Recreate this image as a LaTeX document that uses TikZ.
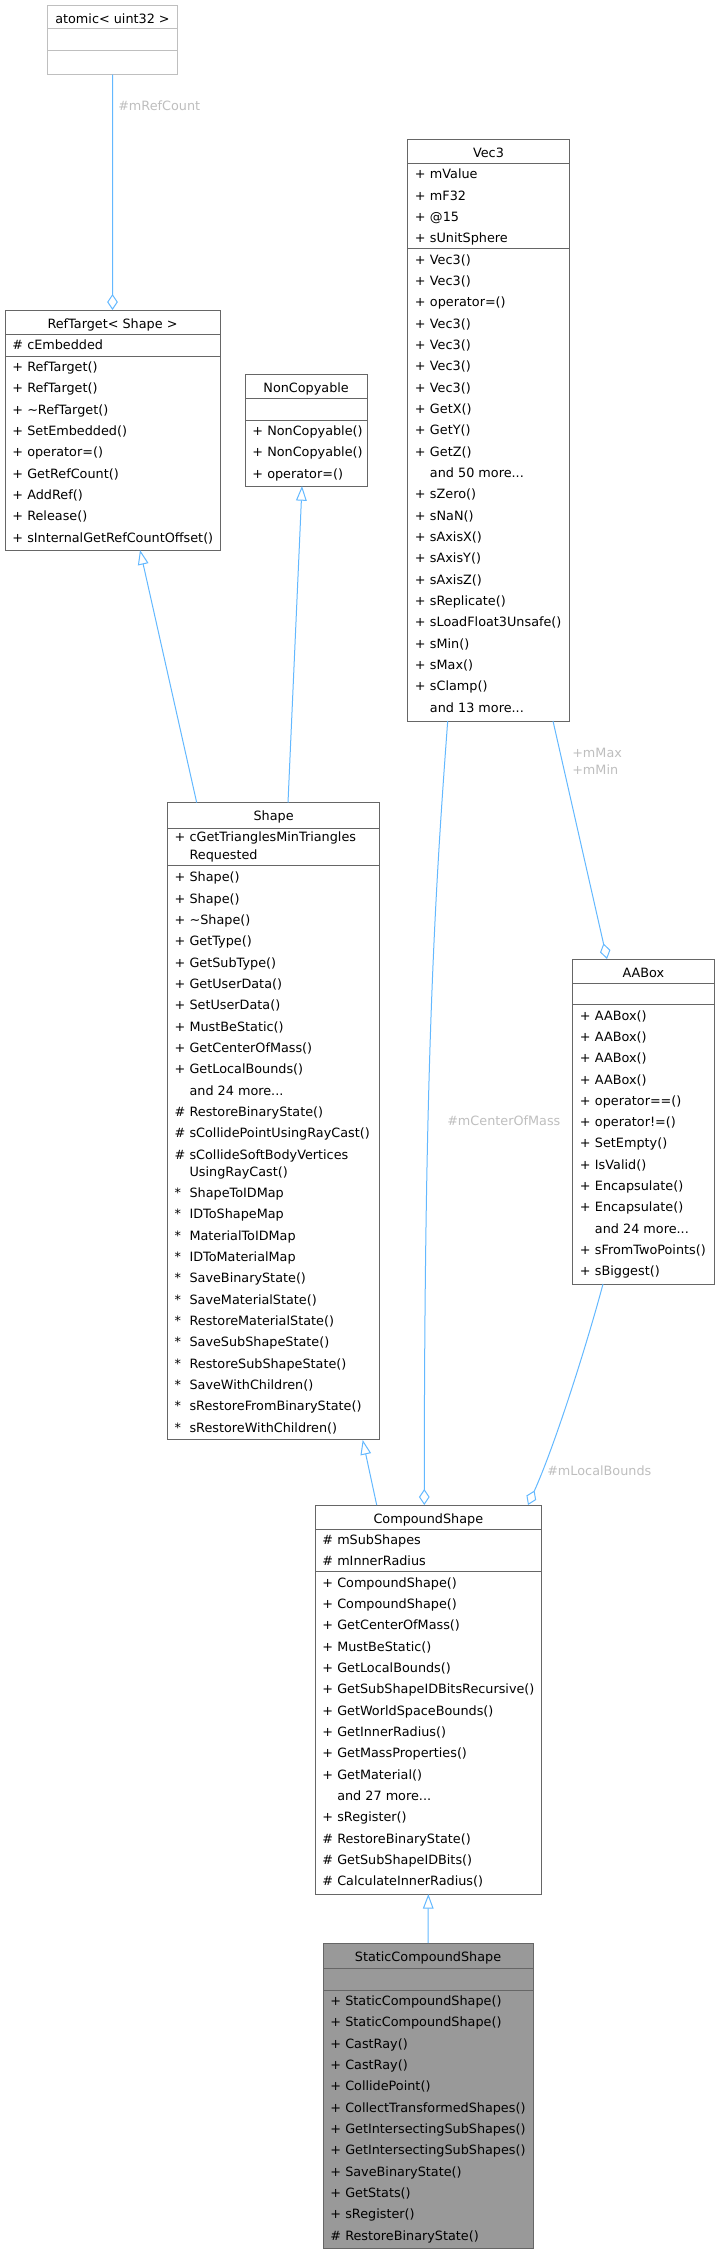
\documentclass[tikz,border=0pt]{standalone}
\usepackage{fontspec}
\setmainfont{DejaVu Sans}
\usetikzlibrary{arrows.meta}
\definecolor{edgeblue}{HTML}{63B8FF}
\definecolor{boxline}{HTML}{666666}
\definecolor{lightline}{HTML}{BFBFBF}
\definecolor{labelgray}{HTML}{BEBEBE}
\definecolor{focusfill}{HTML}{999999}
\newcommand{\mrow}[2]{\makebox[11.25pt][l]{#1}#2}
\newcommand{\andmore}[1]{and #1 more...}

\begin{document}
\begin{tikzpicture}[x=0.75pt,y=-0.75pt,
  font=\fontsize{9.6}{11.5}\selectfont,
  cls/.style={draw=boxline,line width=0.75pt,fill=white,anchor=north west,inner sep=0pt,outer sep=0pt},
  clsname/.style={anchor=base,inner sep=0pt},
  member/.style={anchor=base west,inner sep=0pt},
  divider/.style={boxline,line width=0.75pt},
  edgelabel/.style={text=labelgray,anchor=base west,inner sep=0pt},
  inherit/.style={edgeblue,line width=0.75pt,-{Triangle[open,length=11pt,width=8pt]}},
  aggr/.style={edgeblue,line width=0.75pt,-{Diamond[open,length=12pt,width=8pt]}}]
  \useasboundingbox (0,0) rectangle (719,2253);

  % atomic< uint32 >
  \node[cls,draw=lightline,minimum width=97.2pt,minimum height=52.2pt] (atomic) at (47.7,5) {};
  \node[clsname] (atomic-name) at ([yshift=-13.5pt]atomic.north) {atomic< uint32 >};
  \draw[divider,lightline] (atomic.west |- 0,28.7) -- (atomic.east |- 0,28.7);
  \draw[divider,lightline] (atomic.west |- 0,50.5) -- (atomic.east |- 0,50.5);

  % RefTarget< Shape >
  \node[cls,minimum width=161.25pt,minimum height=180pt] (reft) at (5,310) {};
  \node[clsname] (reft-name) at ([yshift=-13.5pt]reft.north) {RefTarget< Shape >};
  \draw[divider] (reft.west |- 0,334) -- (reft.east |- 0,334);
  \draw[divider] (reft.west |- 0,356) -- (reft.east |- 0,356);
  \node[member] (reft-a1) at (12,349.4) {\mrow{\#}{cEmbedded}};
  \foreach \t [count=\i] in {RefTarget(),RefTarget(),\textasciitilde RefTarget(),SetEmbedded(),
      operator=(),GetRefCount(),AddRef(),Release(),sInternalGetRefCountOffset()}
    \node[member] (reft-m\i) at (12,{371.4+(\i-1)*21.33}) {\mrow{+}{\t}};

  % NonCopyable
  \node[cls,minimum width=91.7pt,minimum height=84pt] (noncopy) at (245,374) {};
  \node[clsname] (noncopy-name) at ([yshift=-13.5pt]noncopy.north) {NonCopyable};
  \draw[divider] (noncopy.west |- 0,398) -- (noncopy.east |- 0,398);
  \draw[divider] (noncopy.west |- 0,420) -- (noncopy.east |- 0,420);
  \foreach \t [count=\i] in {NonCopyable(),NonCopyable(),operator=()}
    \node[member] (noncopy-m\i) at (252,{435.4+(\i-1)*21.33}) {\mrow{+}{\t}};

  % Vec3
  \node[cls,minimum width=121.2pt,minimum height=436.5pt] (vec3) at (407.7,139) {};
  \node[clsname] (vec3-name) at ([yshift=-13.5pt]vec3.north) {Vec3};
  \draw[divider] (vec3.west |- 0,163.5) -- (vec3.east |- 0,163.5);
  \draw[divider] (vec3.west |- 0,248.8) -- (vec3.east |- 0,248.8);
  \foreach \t [count=\i] in {mValue,mF32,@15,sUnitSphere}
    \node[member] (vec3-a\i) at (414.7,{178.9+(\i-1)*21.33}) {\mrow{+}{\t}};
  \foreach \s/\t [count=\i] in {+/Vec3(),+/Vec3(),+/operator=(),+/Vec3(),+/Vec3(),+/Vec3(),+/Vec3(),
      +/GetX(),+/GetY(),+/GetZ(),{}/\andmore{50},+/sZero(),+/sNaN(),+/sAxisX(),+/sAxisY(),
      +/sAxisZ(),+/sReplicate(),+/sLoadFloat3Unsafe(),+/sMin(),+/sMax(),+/sClamp(),{}/\andmore{13}}
    \node[member] (vec3-m\i) at (414.7,{264.2+(\i-1)*21.33}) {\mrow{\s}{\t}};

  % Shape
  \node[cls,minimum width=159.5pt,minimum height=478pt] (shape) at (167.3,802.6) {};
  \node[clsname] (shape-name) at ([yshift=-13.5pt]shape.north) {Shape};
  \draw[divider] (shape.west |- 0,828) -- (shape.east |- 0,828);
  \draw[divider] (shape.west |- 0,865.8) -- (shape.east |- 0,865.8);
  \node[member] (shape-a1) at (174.3,841.7) {\mrow{+}{cGetTrianglesMinTriangles}};
  \node[member] (shape-a1b) at (174.3,859.1) {\mrow{}{Requested}};
  \foreach \s/\t [count=\i] in {+/Shape(),+/Shape(),+/\textasciitilde Shape(),+/GetType(),+/GetSubType(),
      +/GetUserData(),+/SetUserData(),+/MustBeStatic(),+/GetCenterOfMass(),+/GetLocalBounds(),
      {}/\andmore{24},\#/RestoreBinaryState(),\#/sCollidePointUsingRayCast(),\#/sCollideSoftBodyVertices}
    \node[member] (shape-m\i) at (174.3,{881.8+(\i-1)*21.33}) {\mrow{\s}{\t}};
  \node[member] (shape-m14b) at (174.3,1176.1) {\mrow{}{UsingRayCast()}};
  \foreach \t [count=\i] in {ShapeToIDMap,IDToShapeMap,MaterialToIDMap,IDToMaterialMap,SaveBinaryState(),
      SaveMaterialState(),RestoreMaterialState(),SaveSubShapeState(),RestoreSubShapeState(),
      SaveWithChildren(),sRestoreFromBinaryState(),sRestoreWithChildren()}
    \node[member] (shape-f\i) at (174.3,{1197.4+(\i-1)*21.33}) {\mrow{*}{\t}};

  % AABox
  \node[cls,minimum width=106pt,minimum height=243.75pt] (aabox) at (572.7,959) {};
  \node[clsname] (aabox-name) at ([yshift=-13.5pt]aabox.north) {AABox};
  \draw[divider] (aabox.west |- 0,983) -- (aabox.east |- 0,983);
  \draw[divider] (aabox.west |- 0,1004.6) -- (aabox.east |- 0,1004.6);
  \foreach \s/\t [count=\i] in {+/AABox(),+/AABox(),+/AABox(),+/AABox(),+/operator==(),+/operator!=(),
      +/SetEmpty(),+/IsValid(),+/Encapsulate(),+/Encapsulate(),{}/\andmore{24},
      +/sFromTwoPoints(),+/sBiggest()}
    \node[member] (aabox-m\i) at (579.7,{1020+(\i-1)*21.33}) {\mrow{\s}{\t}};

  % CompoundShape
  \node[cls,minimum width=170pt,minimum height=291.75pt] (compound) at (315,1505) {};
  \node[clsname] (compound-name) at ([yshift=-13.5pt]compound.north) {CompoundShape};
  \draw[divider] (compound.west |- 0,1529) -- (compound.east |- 0,1529);
  \draw[divider] (compound.west |- 0,1571.7) -- (compound.east |- 0,1571.7);
  \foreach \t [count=\i] in {mSubShapes,mInnerRadius}
    \node[member] (compound-a\i) at (322,{1544.4+(\i-1)*21.33}) {\mrow{\#}{\t}};
  \foreach \s/\t [count=\i] in {+/CompoundShape(),+/CompoundShape(),+/GetCenterOfMass(),+/MustBeStatic(),
      +/GetLocalBounds(),+/GetSubShapeIDBitsRecursive(),+/GetWorldSpaceBounds(),+/GetInnerRadius(),
      +/GetMassProperties(),+/GetMaterial(),{}/\andmore{27},+/sRegister(),\#/RestoreBinaryState(),
      \#/GetSubShapeIDBits(),\#/CalculateInnerRadius()}
    \node[member] (compound-m\i) at (322,{1587.1+(\i-1)*21.33}) {\mrow{\s}{\t}};

  % StaticCompoundShape
  \node[cls,fill=focusfill,minimum width=157.5pt,minimum height=228.75pt] (static) at (323,1943) {};
  \node[clsname] (static-name) at ([yshift=-13.5pt]static.north) {StaticCompoundShape};
  \draw[divider] (static.west |- 0,1968) -- (static.east |- 0,1968);
  \draw[divider] (static.west |- 0,1990) -- (static.east |- 0,1990);
  \foreach \s/\t [count=\i] in {+/StaticCompoundShape(),+/StaticCompoundShape(),+/CastRay(),+/CastRay(),
      +/CollidePoint(),+/CollectTransformedShapes(),+/GetIntersectingSubShapes(),
      +/GetIntersectingSubShapes(),+/SaveBinaryState(),+/GetStats(),+/sRegister(),\#/RestoreBinaryState()}
    \node[member] (static-m\i) at (330,{2005.4+(\i-1)*21.33}) {\mrow{\s}{\t}};

  % connectors
  \draw[aggr] (atomic.south) -- (reft.north);
  \node[edgelabel] (lbl-refcount) at (118,110.7) {\#mRefCount};
  \draw[inherit] (shape.north -| 196.7,0) -- (reft.south -| 140,0);
  \draw[inherit] (shape.north -| 288,0) -- (noncopy.south -| 302,0);
  \draw[aggr] (vec3.south -| 447.7,0) .. controls (436,880) and (424.3,1050) .. (compound.north -| 424.3,0);
  \node[edgelabel] (lbl-com) at (447,1125.7) {\#mCenterOfMass};
  \draw[aggr] (vec3.south -| 553,0) -- (aabox.north -| 607,0);
  \node[edgelabel] (lbl-max) at (572,757.7) {+mMax};
  \node[edgelabel] (lbl-min) at (572,774.7) {+mMin};
  \draw[aggr] (aabox.south -| 603,0) .. controls (587,1344) and (555,1445) .. (compound.north -| 528,0);
  \node[edgelabel] (lbl-bounds) at (547,1475.7) {\#mLocalBounds};
  \draw[inherit] (compound.north -| 376.7,0) -- (shape.south -| 362.7,0);
  \draw[inherit] (static.north) -- (compound.south);
\end{tikzpicture}
\end{document}
